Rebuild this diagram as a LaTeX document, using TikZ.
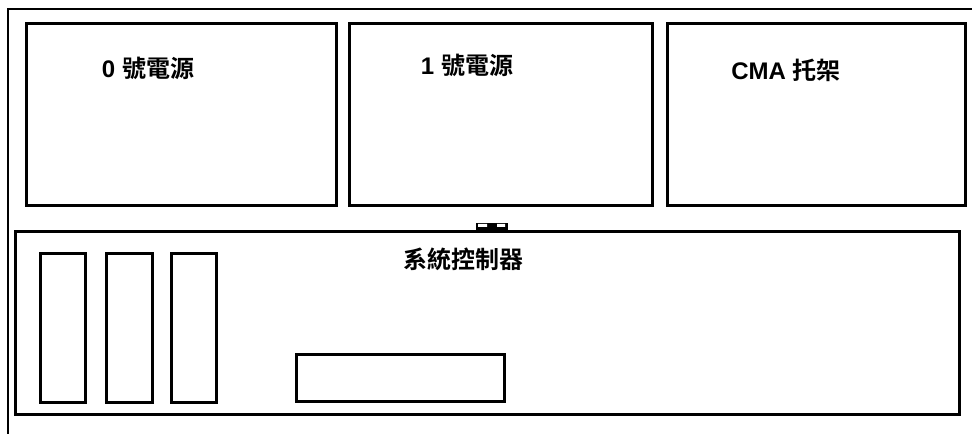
\documentclass[tikz,border=0pt]{standalone}
\usepackage{fontspec}
\setmainfont{Liberation Sans}
\newfontfamily\cjk{Noto Sans CJK TC}[BoldFont={Noto Sans CJK TC Bold}]
\begin{document}
\begin{tikzpicture}
    [x=1pt,y=-1pt,line width=2.6pt,
     unit/.style={draw,anchor=north west,inner sep=0pt},
     caption/.style={font=\bfseries\fontsize{24}{27}\selectfont,inner sep=0pt}]
\useasboundingbox (0,0) rectangle (972,435);
% chassis frame
\draw (972,9) -- (8,9) -- (8,434);
\path
    (25,22) node [unit,minimum width=310pt,minimum height=182pt] (psu0) {}
    (348,22) node [unit,minimum width=303pt,minimum height=182pt] (psu1) {}
    (666,22) node [unit,minimum width=298pt,minimum height=182pt] (cma) {}
    (14,230) node [unit,minimum width=944pt,minimum height=183pt] (sysctl) {};
\path
    (148,68) node [caption] (psu0label) {0 {\cjk 號電源}}
    (467,65) node [caption] (psu1label) {1 {\cjk 號電源}}
    (786,70) node [caption] (cmalabel) {CMA {\cjk 托架}}
    (463,259) node [caption] (sysctllabel) {\cjk 系統控制器};
% slots inside the controller
\path
    (39,252) node [unit,minimum width=45pt,minimum height=149pt] (slot1) {}
    (105,252) node [unit,minimum width=46pt,minimum height=149pt] (slot2) {}
    (170,252) node [unit,minimum width=45pt,minimum height=149pt] (slot3) {}
    (295,353) node [unit,minimum width=208pt,minimum height=47pt] (card) {};
% connector
\node [fill,anchor=north west,inner sep=0pt,minimum width=32pt,minimum height=7pt] (plug) at (475,222) {};
\fill [white] (478,224) rectangle (487,227) (497,224) rectangle (505,227);
\end{tikzpicture}
\end{document}
